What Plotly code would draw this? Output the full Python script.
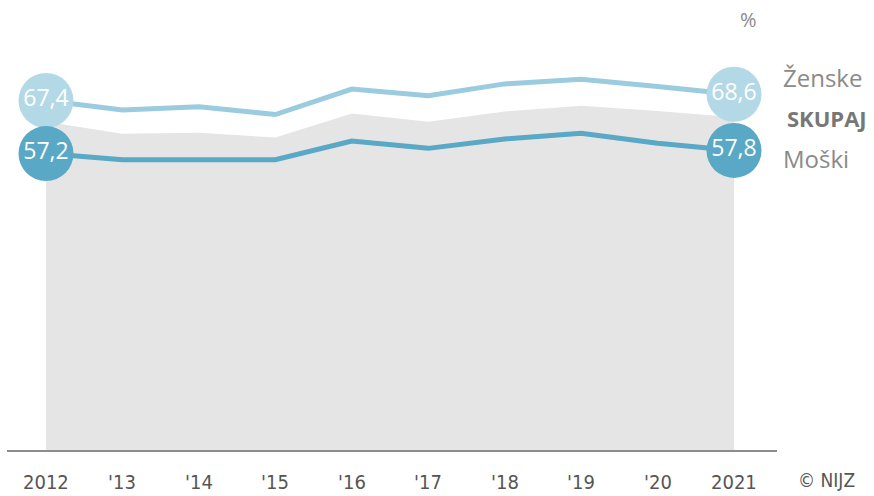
import plotly.graph_objects as go

years = [2012, 2013, 2014, 2015, 2016, 2017, 2018, 2019, 2020, 2021]
tick_labels = ["2012", "'13", "'14", "'15", "'16", "'17", "'18", "'19", "'20", "2021"]
female = [67.4, 65.6, 66.2, 64.7, 69.6, 68.3, 70.6, 71.5, 70.1, 68.6]
male = [57.2, 56.0, 56.0, 56.0, 59.6, 58.2, 60.0, 61.1, 59.2, 57.8]
total = [63.3, 61.0, 61.2, 60.3, 64.9, 63.3, 65.3, 66.4, 65.4, 64.2]
series_names = ["Ženske", "SKUPAJ", "Moški"]
unit = "%"
credit = "© NIJZ"

W, H = 874, 496
px_per_year = 688 / 9
x0 = 2012 - 46 / px_per_year
x1 = x0 + W / px_per_year
px_per_unit = 5.2
y0 = -(H - 451) / px_per_unit
y1 = y0 + H / px_per_unit

c_f_line = "#9bcbdf"
c_f_dot = "#b4d9e6"
c_m_line = "#58a8c6"
c_m_dot = "#58a8c6"
grey_txt = "#8a8a8a"
cond_font = "Liberation Sans Narrow, DejaVu Sans Condensed, sans-serif"

fig = go.Figure()
fig.add_trace(go.Scatter(x=years, y=total, mode="lines", fill="tozeroy",
                         fillcolor="#e5e5e5", line=dict(width=0, color="#e5e5e5"),
                         hoverinfo="skip", showlegend=False))
fig.add_trace(go.Scatter(x=years, y=female, mode="lines",
                         line=dict(width=5, color=c_f_line), showlegend=False))
fig.add_trace(go.Scatter(x=years, y=male, mode="lines",
                         line=dict(width=5, color=c_m_line), showlegend=False))

ends_x = [years[0], years[-1]]
fig.add_trace(go.Scatter(x=ends_x, y=[female[0], female[-1]], mode="markers+text",
                         marker=dict(size=55, color=c_f_dot),
                         text=[f"{v:.1f}".replace(".", ",") for v in (female[0], female[-1])],
                         textposition="middle center",
                         textfont=dict(family="Open Sans, sans-serif", size=23, color="white"),
                         showlegend=False))
fig.add_trace(go.Scatter(x=ends_x, y=[male[0], male[-1]], mode="markers+text",
                         marker=dict(size=55, color=c_m_dot),
                         text=[f"{v:.1f}".replace(".", ",") for v in (male[0], male[-1])],
                         textposition="middle center",
                         textfont=dict(family="Open Sans, sans-serif", size=23, color="white"),
                         showlegend=False))

annotations = []
for yr, lab in zip(years, tick_labels):
    annotations.append(dict(x=yr, y=0, xref="x", yref="paper", text=lab,
                            showarrow=False, xanchor="center", yanchor="bottom",
                            font=dict(family=cond_font, size=20, color="#555555")))
annotations.append(dict(x=826 / W, y=(H - 480) / H, xref="paper", yref="paper", text=credit,
                        showarrow=False, xanchor="center", yanchor="middle",
                        font=dict(family=cond_font, size=19, color="#555555")))
annotations.append(dict(x=748 / W, y=(H - 20) / H, xref="paper", yref="paper", text=unit,
                        showarrow=False, xanchor="center", yanchor="middle",
                        font=dict(family="Open Sans, sans-serif", size=20, color=grey_txt)))
annotations.append(dict(x=781 / W, y=(H - 78) / H, xref="paper", yref="paper", text=series_names[0],
                        showarrow=False, xanchor="left", yanchor="middle",
                        font=dict(family="Open Sans, sans-serif", size=24, color=grey_txt)))
annotations.append(dict(x=785 / W, y=(H - 118) / H, xref="paper", yref="paper",
                        text="<b>" + series_names[1] + "</b>",
                        showarrow=False, xanchor="left", yanchor="middle",
                        font=dict(family="Open Sans, sans-serif", size=22, color="#777777")))
annotations.append(dict(x=781 / W, y=(H - 158) / H, xref="paper", yref="paper", text=series_names[2],
                        showarrow=False, xanchor="left", yanchor="middle",
                        font=dict(family="Open Sans, sans-serif", size=24, color=grey_txt)))

fig.update_layout(
    width=W, height=H,
    margin=dict(l=0, r=0, t=0, b=0),
    paper_bgcolor="white", plot_bgcolor="white",
    xaxis=dict(range=[x0, x1], visible=False, fixedrange=True),
    yaxis=dict(range=[y0, y1], visible=False, fixedrange=True),
    annotations=annotations,
    shapes=[dict(type="line", xref="paper", yref="y", x0=7 / W, x1=777 / W, y0=0, y1=0,
                 line=dict(color="#8c8c8c", width=2))],
    showlegend=False,
)

fig.write_html("out.html", config={"displayModeBar": False},
               post_script="document.body.style.margin='0';")
